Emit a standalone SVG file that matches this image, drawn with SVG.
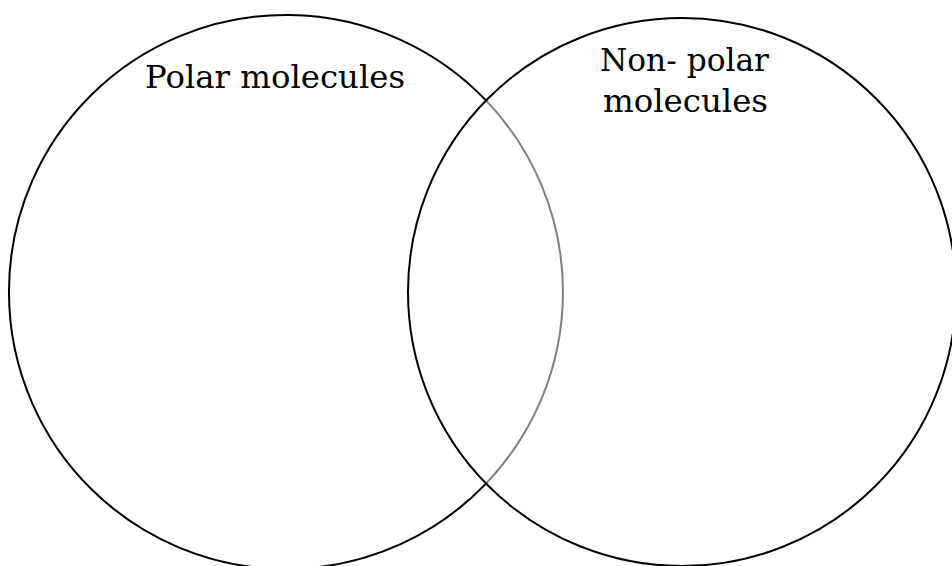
<svg xmlns="http://www.w3.org/2000/svg" width="952" height="566" viewBox="0 0 952 566">
<style>
.c{fill:none;stroke:#000;stroke-width:2}
.g{fill:none;stroke:#808080;stroke-width:2}
.t{font-family:"DejaVu Serif","Liberation Serif",serif;font-size:31px;fill:#000}
</style>
<rect width="952" height="566" fill="#fff"/>
<g id="polar">
<path class="c" d="M486,100.4 A277,277 0 1 0 486,483.6"/>
<path class="g" d="M486,100.4 A277,277 0 0 1 486,483.6"/>
<text class="t" x="145" y="87.5" textLength="260" lengthAdjust="spacingAndGlyphs">Polar molecules</text>
</g>
<g id="nonpolar">
<circle class="c" cx="682" cy="292" r="274"/>
<text class="t" x="600" y="71" textLength="169" lengthAdjust="spacingAndGlyphs">Non- polar</text>
<text class="t" x="603" y="112" textLength="165" lengthAdjust="spacingAndGlyphs">molecules</text>
</g>
<g id="connectors"/>
</svg>
